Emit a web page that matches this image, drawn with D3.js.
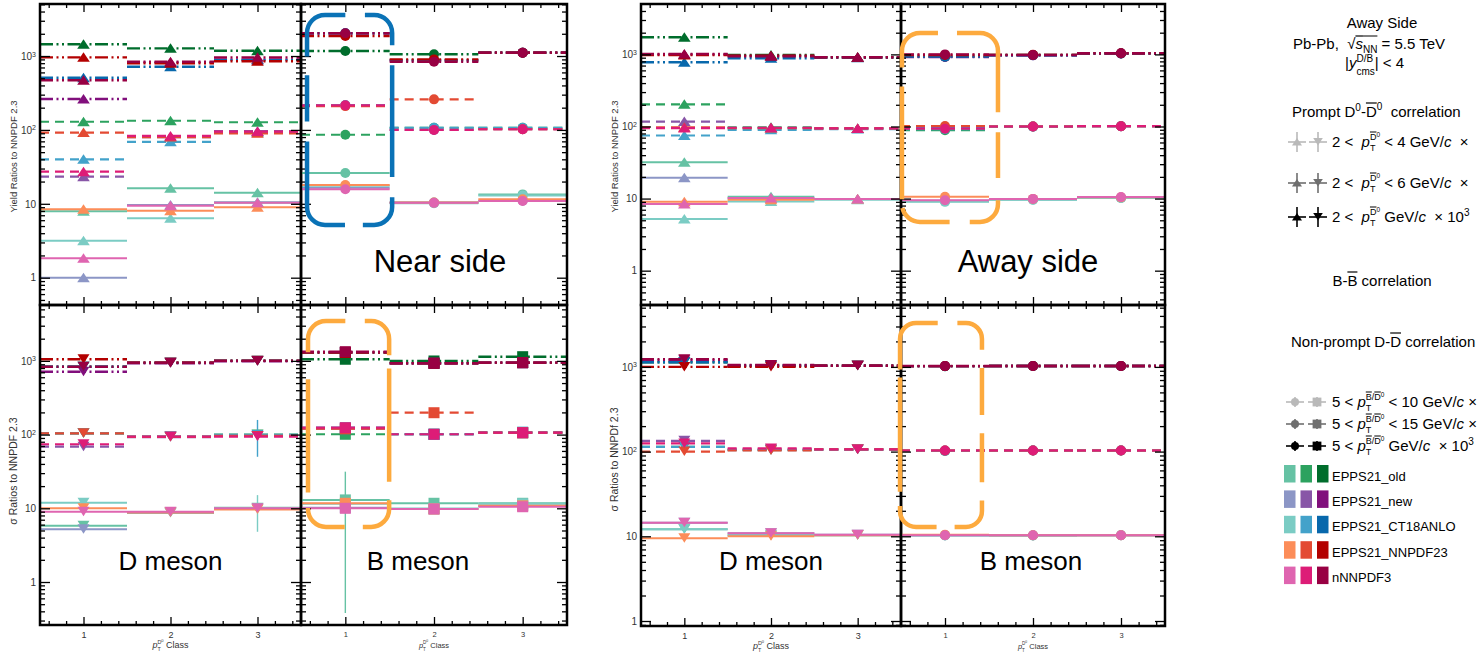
<!DOCTYPE html>
<html>
<head>
<meta charset="utf-8">
<script src="https://cdn.jsdelivr.net/npm/d3@7"></script>
<style>
  body { margin: 0; background: #fff; }
  svg { display: block; }
  text { font-family: "Liberation Sans", Arial, Helvetica, sans-serif; white-space: pre; }
</style>
</head>
<body>
<svg id="chart" width="1480" height="656"></svg>
<script>
// ---------------- data ----------------
const classes = [1, 2, 3];
const pdfSets = ["EPPS21_old", "EPPS21_new", "EPPS21_CT18ANLO", "EPPS21_NNPDF23", "nNNPDF3"];

const yTickValues = [1, 10, 100, 1000];
const yTickLabels = ["1", "10", "10^2", "10^3"];
const xTickLabels = ["1", "2", "3"];

// rows follow pdfSets, columns follow classes
// Near side, yield ratios, prompt D (x10 / x10^2 / x10^3)
const nearYieldD_x10 = [[7.9, 16.2, 14.1], [1.0, 9.6, 10.5], [3.17, 6.37, 10.3], [8.43, 8.07, 8.97], [1.83, 9.4, 10.3]];
const nearYieldD_x100 = [[129, 133, 127], [23.3, 80, 96], [40, 69, 92], [92, 80, 90], [27.2, 83, 95]];
const nearYieldD_x1000 = [[1440, 1270, 1180], [262, 820, 900], [508, 716, 880], [960, 800, 850], [469, 837, 960]];
// Near side, yield ratios, B
const nearYieldB_x10 = [[26.1, 10.4, 13.4], [16.5, 10.3, 11.0], [17.5, 10.2, 13.0], [18.0, 10.4, 11.5], [15.7, 10.3, 10.9]];
const nearYieldB_x100 = [[86, 107, 107], [215, 100, 102], [215, 107, 107], [210, 259, 102], [215, 100, 102]];
const nearYieldB_x1000 = [[1170, 1055, 1110], [2030, 870, 1110], [2030, 880, 1110], [1865, 900, 1110], [2030, 837, 1110]];
// Near side, sigma ratios, D
const nearSigmaD_x10 = [[5.8, 8.8, 10.2], [5.2, 8.6, 9.8], [11.9, 8.8, 10.0], [10.0, 8.8, 9.6], [9.0, 9.0, 10.0]];
const nearSigmaD_x100 = [[104, 94, 100], [68.5, 92, 96], [104, 94, 99], [104, 93, 96], [74, 94, 94]];
const nearSigmaD_x1000 = [[834, 946, 1006], [713, 930, 990], [834, 940, 1000], [1052, 946, 1000], [834, 946, 1006]];
// Near side, sigma ratios, B
const nearSigmaB_x10 = [[13.0, 11.7, 11.7], [10.2, 9.8, 10.8], [11.5, 9.9, 11.5], [11.7, 9.8, 10.8], [10.0, 9.8, 10.5]];
const nearSigmaB_x100 = [[101, 101, 106], [120, 101, 106], [124, 101, 108], [120, 198, 106], [124, 101, 106]];
const nearSigmaB_x1000 = [[1052, 997, 1140], [1300, 930, 946], [1300, 930, 946], [1300, 930, 946], [1333, 927, 946]];
// Away side, yield ratios, D
const awayYieldD_x10 = [[31.9, 10.6, 9.9], [19.5, 10.0, 9.9], [5.2, 9.1, 9.6], [9.06, 9.6, 9.9], [8.4, 10.2, 9.9]];
const awayYieldD_x100 = [[203, 97.5, 94], [117, 95, 94], [75, 90, 92], [97.5, 95, 94], [95, 96, 94]];
const awayYieldD_x1000 = [[1726, 981, 912], [1000, 950, 912], [777, 883, 900], [980, 960, 912], [1012, 940, 912]];
// Away side, yield ratios, B
const awayYieldB_x10 = [[9.2, 9.7, 10.2], [9.3, 9.8, 10.3], [9.0, 9.6, 10.2], [10.6, 9.9, 10.4], [9.5, 9.9, 10.5]];
const awayYieldB_x100 = [[89, 100, 101], [97, 100, 101], [92, 99, 101], [101.6, 100, 101], [93, 100, 101]];
const awayYieldB_x1000 = [[930, 980, 1030], [920, 970, 1030], [930, 975, 1030], [980, 985, 1036], [1000, 980, 1036]];
// Away side, sigma ratios, D
const awaySigmaD_x10 = [[12.1, 10.2, 10.3], [14.5, 10.9, 10.4], [12.1, 10.4, 10.3], [9.47, 10.0, 10.3], [14.5, 10.9, 10.4]];
const awaySigmaD_x100 = [[114, 105, 106], [134, 106, 106], [114, 104, 105], [100, 103, 106], [125, 109, 106]];
const awaySigmaD_x1000 = [[1133, 1030, 1030], [1200, 1040, 1033], [1133, 1030, 1030], [1000, 1000, 1033], [1230, 1052, 1033]];
// Away side, sigma ratios, B
const awaySigmaB_x10 = [[10.3, 10.2, 10.3], [10.3, 10.3, 10.3], [10.2, 10.2, 10.3], [10.4, 10.3, 10.3], [10.3, 10.3, 10.3]];
const awaySigmaB_x100 = [[102, 103, 103], [103, 103, 103], [102, 103, 103], [103, 103, 103], [103, 103, 103]];
const awaySigmaB_x1000 = [[1020, 1024, 1024], [1022, 1024, 1024], [1020, 1024, 1024], [1022, 1024, 1024], [1024, 1024, 1024]];

// error bars: band index (0: x10, 1: x10^2, 2: x10^3), pdf index, class, low, high
const nearSigmaD_err = [
  { band: 1, pdf: 2, cls: 3, lo: 50, hi: 158 },
  { band: 0, pdf: 2, cls: 3, lo: 4.8, hi: 15.1 }
];
const nearSigmaB_err = [
  { band: 0, pdf: 0, cls: 1, lo: 0.38, hi: 31.4 }
];

// ---------------- styles ----------------
const lightShades = ["#66c2a4", "#8c96c6", "#7bccc4", "#fc8d59", "#df65b0"];
const midShades   = ["#2ca25f", "#8856a7", "#43a2ca", "#e34a33", "#dd1c77"];
const darkShades  = ["#006d2c", "#810f7c", "#0868ac", "#b30000", "#980043"];
const bandShades = [lightShades, midShades, darkShades];
const bandStyles = [
  { dash: null, width: 2 },
  { dash: "9,6", width: 2.2 },
  { dash: "13,3.5,2,3.5,2,3.5", width: 2.4 }
];

const datasets = {
  near: {
    YieldD: [nearYieldD_x10, nearYieldD_x100, nearYieldD_x1000],
    YieldB: [nearYieldB_x10, nearYieldB_x100, nearYieldB_x1000],
    SigmaD: [nearSigmaD_x10, nearSigmaD_x100, nearSigmaD_x1000],
    SigmaB: [nearSigmaB_x10, nearSigmaB_x100, nearSigmaB_x1000]
  },
  away: {
    YieldD: [awayYieldD_x10, awayYieldD_x100, awayYieldD_x1000],
    YieldB: [awayYieldB_x10, awayYieldB_x100, awayYieldB_x1000],
    SigmaD: [awaySigmaD_x10, awaySigmaD_x100, awaySigmaD_x1000],
    SigmaB: [awaySigmaB_x10, awaySigmaB_x100, awaySigmaB_x1000]
  }
};
const errors = { near: { SigmaD: nearSigmaD_err, SigmaB: nearSigmaB_err } };
const markerKinds = {
  near: { YieldD: "up", SigmaD: "down", YieldB: "circle", SigmaB: "square" },
  away: { YieldD: "up", SigmaD: "down", YieldB: "circle", SigmaB: "circle" }
};

// figure geometry
const layout = {
  near: { xs: [40, 301, 567], ys: [4, 305, 625], yTop: [0.427, 5058], yBot: [0.261, 5730],
          sigmaTitle: "σ Ratios to NNPDF 2.3", sideLabel: "Near side" },
  away: { xs: [641, 901, 1165], ys: [4, 305, 626], yTop: [0.334, 5000], yBot: [0.873, 5380],
          sigmaTitle: "σ Ratios to NNPDf 2.3", sideLabel: "Away side" }
};

const svg = d3.select("#chart");

function markerPath(kind) {
  if (kind === "up") return "M0,-5L6.3,4.5L-6.3,4.5Z";
  if (kind === "down") return "M0,4.5L6,-5L-6,-5Z";
  if (kind === "square") return "M-5.5,-5.5h11v11h-11Z";
  return d3.symbol(d3.symbolCircle, Math.PI * 25)();
}

function minorLogTicks(domain) {
  const out = [];
  for (let e = -1; e <= 4; e++) for (let k = 2; k <= 9; k++) {
    const v = k * Math.pow(10, e);
    if (v > domain[0] && v < domain[1]) out.push(v);
  }
  return out;
}

function supLabels(sel) {
  sel.selectAll(".tick text").each(function (d) {
    const i = yTickValues.indexOf(d);
    const lab = i >= 0 ? yTickLabels[i] : "";
    const el = d3.select(this).text(null);
    const [base, exp] = lab.split("^");
    el.append("tspan").text(base);
    if (exp) el.append("tspan").attr("dy", "-0.45em").attr("font-size", "0.7em").text(exp);
  });
}

function styleAxis(sel) {
  sel.select(".domain").remove();
  sel.selectAll(".tick line").attr("stroke", "#000").attr("stroke-width", 1.3);
}

function drawPanel(fig, row, col) {
  const L = layout[fig];
  const x = d3.scaleLinear().domain([0.5, 3.5]).range([L.xs[col], L.xs[col + 1]]);
  const yDom = row === 0 ? L.yTop : L.yBot;
  const y = d3.scaleLog().domain(yDom).range([L.ys[row + 1], L.ys[row]]);
  const key = (row === 0 ? "Yield" : "Sigma") + (col === 0 ? "D" : "B");
  const kind = markerKinds[fig][key];
  const errs = (errors[fig] && errors[fig][key]) || [];
  const g = svg.append("g");

  datasets[fig][key].forEach((band, bi) => {
    band.forEach((vals, pi) => {
      const color = bandShades[bi][pi];
      const s = g.append("g").attr("class", "series");
      s.selectAll("line.seg").data(vals).join("line").attr("class", "seg")
        .attr("x1", (v, i) => x(classes[i] - 0.5)).attr("x2", (v, i) => x(classes[i] + 0.5))
        .attr("y1", v => y(v)).attr("y2", v => y(v))
        .attr("stroke", color).attr("stroke-width", bandStyles[bi].width)
        .attr("stroke-dasharray", bandStyles[bi].dash);
      s.selectAll("line.err").data(errs.filter(e => e.band === bi && e.pdf === pi)).join("line").attr("class", "err")
        .attr("x1", e => x(e.cls)).attr("x2", e => x(e.cls))
        .attr("y1", e => y(e.lo)).attr("y2", e => y(e.hi))
        .attr("stroke", color).attr("stroke-width", 1.4);
      s.selectAll("path.mk").data(vals).join("path").attr("class", "mk")
        .attr("d", markerPath(kind))
        .attr("transform", (v, i) => `translate(${x(classes[i])},${y(v)})`)
        .attr("fill", color);
    });
  });

  const [x0, x1] = x.range();
  const [yb, yt] = y.range();
  const minors = minorLogTicks(yDom);
  const xMinor = d3.range(6, 35, 2).map(v => v / 10).filter(v => v % 1 !== 0);

  // y axes (left labelled on the first column)
  const axL = g.append("g").attr("transform", `translate(${x0},0)`)
    .call(d3.axisLeft(y).tickValues(yTickValues).tickSize(-10).tickPadding(4)
      .tickFormat(col === 0 ? d => d : () => ""));
  styleAxis(axL);
  axL.selectAll(".tick text").attr("font-size", 10).attr("fill", "#333");
  if (col === 0) supLabels(axL);
  styleAxis(g.append("g").attr("transform", `translate(${x0},0)`)
    .call(d3.axisLeft(y).tickValues(minors).tickSize(-5).tickFormat(() => "")));
  styleAxis(g.append("g").attr("transform", `translate(${x1},0)`)
    .call(d3.axisRight(y).tickValues(yTickValues).tickSize(-10).tickFormat(() => "")));
  styleAxis(g.append("g").attr("transform", `translate(${x1},0)`)
    .call(d3.axisRight(y).tickValues(minors).tickSize(-5).tickFormat(() => "")));
  // x axes
  styleAxis(g.append("g").attr("transform", `translate(0,${yt})`)
    .call(d3.axisTop(x).tickValues(classes).tickSize(-8).tickFormat(() => "")));
  styleAxis(g.append("g").attr("transform", `translate(0,${yt})`)
    .call(d3.axisTop(x).tickValues(xMinor).tickSize(-4).tickFormat(() => "")));
  const axB = g.append("g").attr("transform", `translate(0,${yb})`)
    .call(d3.axisBottom(x).tickValues(classes).tickSize(-8).tickPadding(7)
      .tickFormat(row === 1 ? (d, i) => xTickLabels[i] : () => ""));
  styleAxis(axB);
  axB.selectAll(".tick text").attr("font-size", col === 0 ? 9 : 7.5).attr("fill", "#333");
  styleAxis(g.append("g").attr("transform", `translate(0,${yb})`)
    .call(d3.axisBottom(x).tickValues(xMinor).tickSize(-4).tickFormat(() => "")));

  g.append("rect").attr("x", x0).attr("y", yt).attr("width", x1 - x0).attr("height", yb - yt)
    .attr("fill", "none").attr("stroke", "#000").attr("stroke-width", 2.5);

  if (row === 1) {
    // x axis title under the middle class
    const fs = col === 0 ? 9 : 7.5;
    rich(g, x(2), yb + 23, [
      { t: "p", italic: true, size: fs },
      { t: "T", size: fs * 0.6, dy: 2.5 },
      { t: "D", size: fs * 0.6, dy: -4, stack: true },
      { t: "0", size: fs * 0.45, dy: -6 },
      { t: " Class", size: fs }
    ], "middle", "#333");
  }
  return { x, y };
}

// text built from sequential pieces (sub/superscripts, overlines)
function rich(parent, x, y, parts, anchor, fill) {
  fill = fill || "#000";
  const g = parent.append("g");
  let cx = 0, lastStart = 0;
  parts.forEach(p => {
    const size = p.size || 15;
    const dy = p.dy || 0;
    const px = p.stack ? lastStart : cx + (p.dx || 0);
    const t = g.append("text").attr("x", px).attr("y", dy).attr("font-size", size).attr("fill", fill).text(p.t);
    if (p.italic) t.attr("font-style", "italic");
    const w = t.node().getComputedTextLength();
    if (p.over) {
      const oy = p.overY !== undefined ? p.overY : dy - size * 0.9;
      g.append("line").attr("x1", px + (p.overInset || 0)).attr("x2", px + w)
        .attr("y1", oy).attr("y2", oy).attr("stroke", fill).attr("stroke-width", Math.max(1, size * 0.08));
    }
    if (!p.stack) lastStart = px;
    cx = Math.max(cx, px + w);
  });
  const shift = anchor === "middle" ? -cx / 2 : anchor === "end" ? -cx : 0;
  g.attr("transform", `translate(${x + shift},${y})`);
  return g;
}

// rounded dashed highlight box; gaps given as [side, fromFraction, toFraction]
function dashedBox(x0, y0, x1, y1, r, gaps, color) {
  const w = x1 - x0, h = y1 - y0, arc = Math.PI / 2 * r;
  const right0 = (w - 2 * r) + arc, bottom0 = right0 + (h - 2 * r) + arc, left0 = bottom0 + (w - 2 * r) + arc;
  const total = left0 + (h - 2 * r) + arc;
  const toS = (side, f) => side === "top" ? f * w - r
    : side === "right" ? right0 + f * h - r
    : side === "bottom" ? bottom0 + (1 - f) * w - r
    : left0 + (1 - f) * h - r;
  const iv = gaps.map(([s, a, b]) => { const p = toS(s, a), q = toS(s, b); return [Math.min(p, q), Math.max(p, q)]; })
    .sort((a, b) => a[0] - b[0]);
  const dash = []; let pos = 0;
  iv.forEach(([a, b]) => { dash.push(a - pos, b - a); pos = b; });
  dash.push(total - pos, 0);
  const d = `M${x0 + r},${y0}H${x1 - r}A${r},${r} 0 0 1 ${x1},${y0 + r}V${y1 - r}A${r},${r} 0 0 1 ${x1 - r},${y1}` +
            `H${x0 + r}A${r},${r} 0 0 1 ${x0},${y1 - r}V${y0 + r}A${r},${r} 0 0 1 ${x0 + r},${y0}`;
  svg.append("path").attr("d", d).attr("fill", "none").attr("stroke", color)
    .attr("stroke-width", 4.5).attr("stroke-dasharray", dash.join(","));
}

// ---------------- figures ----------------
const scales = {};
["near", "away"].forEach(fig => {
  scales[fig] = [];
  for (let row = 0; row < 2; row++) {
    scales[fig][row] = [];
    for (let col = 0; col < 2; col++) scales[fig][row][col] = drawPanel(fig, row, col);
  }
  const L = layout[fig];
  const ytx = L.xs[0] - 23;
  svg.append("text").attr("transform", `translate(${ytx},${(L.ys[0] + L.ys[1]) / 2 + 2}) rotate(-90)`)
    .attr("text-anchor", "middle").attr("font-size", 9.5).attr("fill", "#333").text("Yield Ratios to NNPDF 2.3");
  svg.append("text").attr("transform", `translate(${ytx},${(L.ys[1] + L.ys[2]) / 2 + (fig === "near" ? 6 : -6)}) rotate(-90)`)
    .attr("text-anchor", "middle").attr("font-size", 10.5).attr("fill", "#333").text(L.sigmaTitle);

  const xr = scales[fig][0][1].x;
  svg.append("text").attr("x", xr(2) + (fig === "near" ? 6 : -5)).attr("y", 271.5)
    .attr("text-anchor", "middle").attr("font-size", 31).text(L.sideLabel);
  svg.append("text").attr("x", scales[fig][1][0].x(2)).attr("y", 570)
    .attr("text-anchor", "middle").attr("font-size", 26).text("D meson");
  svg.append("text").attr("x", scales[fig][1][1].x(2) + (fig === "near" ? -16 : -2)).attr("y", 570)
    .attr("text-anchor", "middle").attr("font-size", 26).text("B meson");
});

// highlight boxes (class / ratio coordinates)
{
  const s = scales.near[0][1];
  dashedBox(s.x(0.568), s.y(3590), s.x(1.528), s.y(5.17), 18,
    [["top", 0.45, 0.68], ["right", 0.143, 0.238], ["right", 0.771, 0.867],
     ["bottom", 0.45, 0.66], ["left", 0.51, 0.605], ["left", 0.2, 0.29]], "#0a72b6");
}
{
  const s = scales.near[1][1];
  dashedBox(s.x(0.579), s.y(3478), s.x(1.494), s.y(5.58), 18,
    [["top", 0.46, 0.70], ["right", 0.165, 0.23], ["right", 0.78, 0.87],
     ["bottom", 0.457, 0.68], ["left", 0.835, 0.91], ["left", 0.155, 0.286]], "#fdaa3e");
}
{
  const s = scales.away[0][1];
  dashedBox(s.x(0.511), s.y(1982), s.x(1.602), s.y(4.74), 18,
    [["top", 0.375, 0.573], ["right", 0.418, 0.524], ["right", 0.767, 0.884],
     ["bottom", 0.5, 0.71], ["left", 0.883, 0.93], ["left", 0.185, 0.286]], "#fdaa3e");
}
{
  const s = scales.away[1][1];
  dashedBox(s.x(0.489), s.y(3300), s.x(1.42), s.y(12.9), 16,
    [["top", 0.46, 0.70], ["right", 0.13, 0.22], ["right", 0.45, 0.54], ["right", 0.78, 0.87],
     ["bottom", 0.45, 0.67], ["left", 0.83, 0.9], ["left", 0.23, 0.27]], "#fdaa3e");
}

// ---------------- legend ----------------
const lg = svg.append("g");
rich(lg, 1382, 28, [{ t: "Away Side" }], "middle");
rich(lg, 1293, 49, [
  { t: "Pb-Pb,  " }, { t: "√" },
  { t: "s", italic: true, over: true, overY: -13 },
  { t: "NN", size: 10, dy: 4, over: true, overY: -13 },
  { t: " = 5.5 TeV" }
]);
rich(lg, 1345, 68, [
  { t: "|" }, { t: "y", italic: true },
  { t: "D/B", size: 10, dy: -6 }, { t: "cms", size: 10, dy: 7, stack: true },
  { t: "| < 4" }
]);
rich(lg, 1292, 117, [
  { t: "Prompt D" }, { t: "0", size: 10, dy: -6 }, { t: "-" },
  { t: "D", over: true, overY: -14 }, { t: "0", size: 10, dy: -7 }, { t: "  correlation" }
]);

const grays = ["#b9b9b9", "#6f6f6f", "#000"];
const promptRows = [
  { y: 142, tail: [{ t: " < 4 GeV/" }, { t: "c", italic: true }, { t: "  ×" }] },
  { y: 183, tail: [{ t: " < 6 GeV/" }, { t: "c", italic: true }, { t: "  ×" }] },
  { y: 217, tail: [{ t: " GeV/" }, { t: "c", italic: true }, { t: "  × 10" }, { t: "3", size: 10, dy: -6 }] }
];
function legendCross(cx, cy, color, kind, vlen) {
  lg.append("line").attr("x1", cx - 9).attr("x2", cx + 9).attr("y1", cy).attr("y2", cy).attr("stroke", color).attr("stroke-width", 1.6);
  lg.append("line").attr("x1", cx).attr("x2", cx).attr("y1", cy - vlen).attr("y2", cy + vlen).attr("stroke", color).attr("stroke-width", 1.6);
  lg.append("path").attr("d", markerPath(kind)).attr("transform", `translate(${cx},${cy}) scale(0.8)`).attr("fill", color);
}
promptRows.forEach((r, i) => {
  legendCross(1297, r.y, grays[i], "up", 10);
  legendCross(1318, r.y, grays[i], "down", 10);
  rich(lg, 1332, r.y + 5, [
    { t: "2 <  " }, { t: "p", italic: true },
    { t: "T", size: 9, dy: 4 },
    { t: "D", size: 9, dy: -7, stack: true, over: true, overY: -15 },
    { t: "0", size: 6.5, dy: -10 }
  ].concat(r.tail));
});
rich(lg, 1382, 286, [{ t: "B-" }, { t: "B", over: true, overY: -14 }, { t: " correlation" }], "middle");
rich(lg, 1291, 347, [{ t: "Non-prompt D-" }, { t: "D", over: true, overY: -14 }, { t: " correlation" }]);

const nonPromptRows = [
  { y: 402, tail: [{ t: " < 10 GeV/" }, { t: "c", italic: true }, { t: " ×" }] },
  { y: 424, tail: [{ t: " < 15 GeV/" }, { t: "c", italic: true }, { t: " ×" }] },
  { y: 446, tail: [{ t: " GeV/" }, { t: "c", italic: true }, { t: "  × 10" }, { t: "3", size: 10, dy: -6 }] }
];
nonPromptRows.forEach((r, i) => {
  legendCross(1295, r.y, grays[i], "circle", 5);
  legendCross(1317, r.y, grays[i], "square", 5);
  rich(lg, 1332, r.y + 5, [
    { t: "5 < " }, { t: "p", italic: true },
    { t: "T", size: 9, dy: 4 },
    { t: "B", size: 9, dy: -7, stack: true, over: true, overY: -15 },
    { t: "/", size: 9, dy: -7 },
    { t: "D", size: 9, dy: -7, over: true, overY: -15 },
    { t: "0", size: 6.5, dy: -10 }
  ].concat(r.tail));
});

pdfSets.forEach((name, i) => {
  const top = 465 + i * 25.4;
  [lightShades, midShades, darkShades].forEach((shades, j) => {
    lg.append("rect").attr("x", 1284 + j * 16.5).attr("y", top).attr("width", 11.5).attr("height", 17.5).attr("fill", shades[i]);
  });
  lg.append("text").attr("x", 1332).attr("y", top + 15.5).attr("font-size", 13).text(name);
});
</script>
</body>
</html>
